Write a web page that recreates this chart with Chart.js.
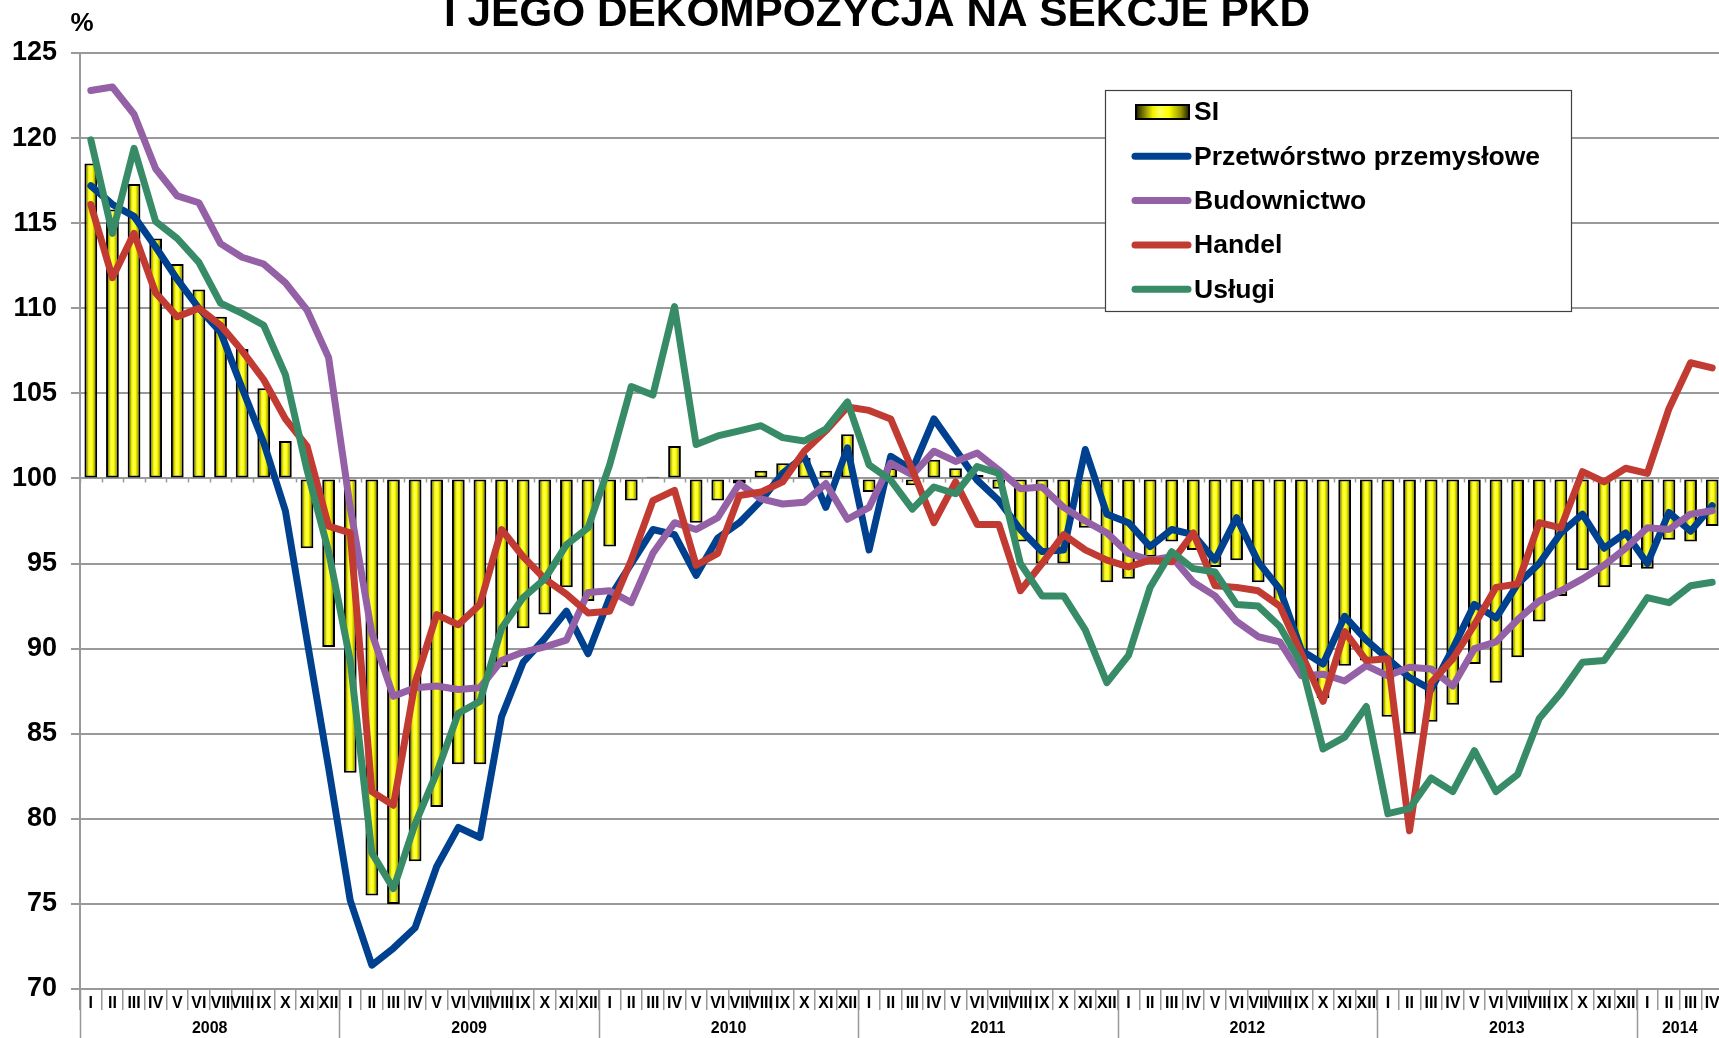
<!DOCTYPE html>
<html lang="pl">
<head>
<meta charset="UTF-8">
<title>Wskaźnik SI i jego dekompozycja na sekcje PKD</title>
<script src="https://cdn.jsdelivr.net/npm/chart.js"></script>
<style>
    html, body { margin: 0; padding: 0; background: #fff; overflow: hidden; }
    .chart-container { width: 1724px; height: 1038px; position: relative; }
</style>
</head>
<body>
<div class="chart-container">
    <canvas id="wykres"></canvas>
</div>
<script>
// miesiące i lata na osi poziomej
const miesiace = ['I', 'II', 'III', 'IV', 'V', 'VI', 'VII', 'VIII', 'IX', 'X', 'XI', 'XII'];
const lata = ['2008', '2009', '2010', '2011', '2012', '2013', '2014'];
const miesiaceOstatniegoRoku = 4;

// wskaźnik SI (słupki od poziomu 100)
const si = [
    118.5, 115.8, 117.3, 114.1, 112.6, 111.1, 109.5, 107.6, 105.3, 102.2, 95.9, 90.1,
    82.7, 75.5, 75.0, 77.5, 80.7, 83.2, 83.2, 88.9, 91.2, 92.0, 93.6, 92.8,
    96.0, 98.7, 100.1, 101.9, 97.4, 98.7, 99.7, 100.45, 100.9, 101.2, 100.45, 102.6,
    99.2, 100.6, 99.6, 101.1, 100.6, 100.2, 99.4, 96.3, 95.0, 95.0, 97.1, 93.9,
    94.1, 95.4, 96.3, 95.8, 94.8, 95.2, 93.9, 92.5, 89.0, 87.1, 89.0, 89.3,
    86.0, 85.0, 85.7, 86.7, 89.1, 88.0, 89.5, 91.6, 93.1, 94.6, 93.6, 94.8,
    94.7, 96.4, 96.3, 97.2
];
const przetworstwo = [
    117.2, 116.1, 115.4, 113.6, 111.7, 110.0, 108.6, 105.3, 102.1, 98.1, 90.5, 83.0,
    75.2, 71.4, 72.4, 73.6, 77.2, 79.5, 78.9, 86.0, 89.2, 90.6, 92.2, 89.7,
    93.0, 95.0, 97.0, 96.7, 94.3, 96.5, 97.4, 98.7, 100.3, 101.3, 98.3, 101.8,
    95.8, 101.3, 100.5, 103.5, 101.7, 99.9, 98.7, 97.0, 95.7, 95.8, 101.7, 97.9,
    97.4, 96.0, 97.0, 96.7, 95.2, 97.7, 95.1, 93.5, 89.9, 89.1, 91.9, 90.5,
    89.4, 88.3, 87.6, 90.0, 92.6, 91.8, 93.8, 95.0, 96.8, 97.9, 95.9, 96.8,
    95.0, 98.0, 96.9, 98.4
];
const budownictwo = [
    122.8, 123.0, 121.4, 118.2, 116.6, 116.2, 113.8, 113.0, 112.6, 111.5, 109.9, 107.1,
    98.3, 90.9, 87.2, 87.7, 87.8, 87.6, 87.7, 89.3, 89.8, 90.1, 90.5, 93.3,
    93.4, 92.7, 95.6, 97.4, 97.0, 97.7, 99.7, 98.8, 98.5, 98.6, 99.7, 97.6,
    98.3, 100.9, 100.2, 101.6, 101.0, 101.5, 100.5, 99.4, 99.5, 98.3, 97.5, 96.8,
    95.6, 95.2, 95.4, 93.9, 93.1, 91.6, 90.7, 90.4, 88.4, 88.5, 88.1, 89.0,
    88.4, 88.9, 88.8, 87.8, 90.0, 90.4, 91.7, 92.8, 93.4, 94.1, 94.9, 95.9,
    97.1, 97.0, 97.9, 98.1
];
const handel = [
    116.1, 111.8, 114.4, 110.9, 109.5, 110.0, 109.0, 107.5, 105.8, 103.5, 101.9, 97.2,
    96.8, 81.6, 80.8, 88.0, 92.0, 91.4, 92.6, 97.0, 95.4, 94.1, 93.2, 92.1,
    92.2, 95.2, 98.7, 99.3, 94.9, 95.6, 99.0, 99.2, 99.8, 101.6, 102.8, 104.2,
    104.0, 103.5, 100.5, 97.4, 99.8, 97.3, 97.3, 93.4, 95.0, 96.7, 95.8, 95.2,
    94.8, 95.2, 95.1, 96.8, 93.7, 93.6, 93.4, 92.5, 89.7, 86.9, 91.0, 89.3,
    89.4, 79.3, 88.0, 89.4, 91.4, 93.6, 93.8, 97.4, 97.1, 100.4, 99.8, 100.6,
    100.3, 104.1, 106.8, 106.5
];
const uslugi = [
    119.9, 114.4, 119.4, 115.1, 114.1, 112.7, 110.3, 109.7, 109.0, 106.1, 100.5, 95.7,
    89.3, 78.0, 75.9, 79.7, 82.7, 86.2, 86.9, 91.2, 93.0, 94.1, 96.1, 97.1,
    100.8, 105.4, 104.9, 110.1, 102.0, 102.5, 102.8, 103.1, 102.4, 102.2, 102.9, 104.5,
    100.8, 99.9, 98.2, 99.5, 99.1, 100.7, 100.3, 95.0, 93.1, 93.1, 91.1, 88.0,
    89.6, 93.6, 95.7, 94.7, 94.5, 92.6, 92.5, 91.3, 89.1, 84.1, 84.8, 86.6,
    80.3, 80.6, 82.4, 81.6, 84.0, 81.6, 82.6, 85.9, 87.4, 89.2, 89.3, 91.1,
    93.0, 92.7, 93.7, 93.9
];

const etykiety = [];
lata.forEach((rok, r) => {
    const ile = r === lata.length - 1 ? miesiaceOstatniegoRoku : 12;
    for (let m = 0; m < ile; m++) etykiety.push(miesiace[m]);
});

const czcionka = "'Liberation Sans', Arial, sans-serif";
const czcionkaWaska = "'Liberation Sans Narrow', 'Arial Narrow', 'Liberation Sans', Arial, sans-serif";
const szaryOsi = '#999999';
const szerokoscSlupka = 0.59;

// żółty słupek z cieniowaniem "3D"
function gradientSlupka(ctx2d, x0, x1) {
    const g = ctx2d.createLinearGradient(x0, 0, x1, 0);
    g.addColorStop(0, '#1f1f00');
    g.addColorStop(0.14, '#7a7a00');
    g.addColorStop(0.32, '#f2f200');
    g.addColorStop(0.45, '#ffff59');
    g.addColorStop(0.62, '#ffff00');
    g.addColorStop(0.84, '#9a9a00');
    g.addColorStop(1, '#1f1f00');
    return g;
}

const dekoracje = {
    id: 'dekoracje',
    beforeDatasetsDraw(chart) {
        // znaczniki osi kategorii na poziomie 100
        const { ctx, scales: { x, y } } = chart;
        const y100 = y.getPixelForValue(100);
        const mw = x.width / etykiety.length;
        ctx.save();
        ctx.strokeStyle = szaryOsi;
        ctx.lineWidth = 1.5;
        ctx.beginPath();
        for (let i = 0; i <= etykiety.length; i++) {
            const px = Math.round(x.left + i * mw) + 0.5;
            ctx.moveTo(px, y100);
            ctx.lineTo(px, y100 + 4);
        }
        ctx.stroke();
        ctx.restore();
    },
    afterDraw(chart) {
        const { ctx, chartArea, scales: { x } } = chart;
        const mw = x.width / etykiety.length;
        const h = chart.height;
        ctx.save();

        // podział na lata
        ctx.strokeStyle = szaryOsi;
        ctx.lineWidth = 1.5;
        ctx.beginPath();
        for (let k = 0; k <= lata.length; k++) {
            const px = Math.round(x.left + Math.min(k * 12, etykiety.length) * mw) + 0.5;
            ctx.moveTo(px, chartArea.bottom);
            ctx.lineTo(px, h);
        }
        ctx.stroke();

        ctx.fillStyle = '#000';
        ctx.font = 'bold 16px ' + czcionkaWaska;
        ctx.textAlign = 'center';
        ctx.textBaseline = 'middle';
        lata.forEach((rok, r) => {
            const od = r * 12;
            const ile = Math.min(12, etykiety.length - od);
            ctx.fillText(rok, x.left + (od + ile / 2) * mw, 1029);
        });

        // jednostka osi
        ctx.font = 'bold 26px ' + czcionka;
        ctx.fillText('%', 82, 24);

        // tytuł (górna linijka poza kadrem)
        const tytul = 'I JEGO DEKOMPOZYCJA NA SEKCJE PKD';
        ctx.font = 'bold 42px ' + czcionka;
        ctx.textAlign = 'left';
        ctx.textBaseline = 'alphabetic';
        const sw = ctx.measureText(tytul).width;
        ctx.save();
        ctx.translate(444, 26);
        ctx.scale(866 / sw, 1);
        ctx.fillText(tytul, 0, 0);
        ctx.restore();

        // legenda
        const lx = 1105, ly = 90, lw = 466, lh = 221;
        ctx.fillStyle = '#fff';
        ctx.fillRect(lx, ly, lw, lh);
        ctx.strokeStyle = '#404040';
        ctx.lineWidth = 1.2;
        ctx.strokeRect(lx + 0.5, ly + 0.5, lw, lh);

        ctx.font = 'bold 26.5px ' + czcionka;
        ctx.textBaseline = 'middle';
        chart.data.datasets.forEach((ds, i) => {
            const cy = 112 + i * 44.3;
            if (ds.type === 'bar') {
                ctx.fillStyle = gradientSlupka(ctx, 1136, 1189);
                ctx.fillRect(1136, cy - 7, 53, 14);
                ctx.strokeStyle = '#000';
                ctx.lineWidth = 2;
                ctx.strokeRect(1136, cy - 7, 53, 14);
            } else {
                ctx.strokeStyle = ds.borderColor;
                ctx.lineWidth = 7;
                ctx.lineCap = 'round';
                ctx.beginPath();
                ctx.moveTo(1135, cy);
                ctx.lineTo(1188, cy);
                ctx.stroke();
            }
            ctx.fillStyle = '#000';
            ctx.fillText(ds.label, 1194, cy + 1);
        });
        ctx.restore();
    }
};

function liniaSerii(label, dane, kolor, kolejnosc) {
    return {
        type: 'line',
        label: label,
        data: dane,
        borderColor: kolor,
        borderWidth: 7,
        borderJoinStyle: 'round',
        borderCapStyle: 'round',
        pointRadius: 0,
        tension: 0,
        fill: false,
        order: kolejnosc
    };
}

const ctx = document.getElementById('wykres').getContext('2d');
new Chart(ctx, {
    type: 'bar',
    data: {
        labels: etykiety,
        datasets: [
            {
                type: 'bar',
                label: 'SI',
                data: si,
                base: 100,
                order: 5,
                borderColor: '#000',
                borderWidth: 2,
                borderSkipped: false,
                categoryPercentage: 1,
                barPercentage: szerokoscSlupka,
                backgroundColor: function (c) {
                    const chart = c.chart;
                    const xs = chart.scales && chart.scales.x;
                    if (c.type !== 'data' || !xs || !xs.width) return '#ffff00';
                    const mw = xs.width / etykiety.length;
                    const cx = xs.getPixelForValue(c.dataIndex);
                    const w = mw * szerokoscSlupka;
                    return gradientSlupka(chart.ctx, cx - w / 2, cx + w / 2);
                }
            },
            liniaSerii('Przetwórstwo przemysłowe', przetworstwo, '#00418f', 4),
            liniaSerii('Budownictwo', budownictwo, '#9461a6', 3),
            liniaSerii('Handel', handel, '#c23b33', 2),
            liniaSerii('Usługi', uslugi, '#378c67', 1)
        ]
    },
    options: {
        responsive: true,
        maintainAspectRatio: false,
        animation: false,
        layout: { padding: { top: 53, right: 1, left: 0, bottom: 0 } },
        plugins: {
            legend: { display: false },
            tooltip: { enabled: false }
        },
        scales: {
            x: {
                type: 'category',
                offset: true,
                afterFit: (s) => { s.height = 49; },
                grid: {
                    offset: true,
                    drawOnChartArea: false,
                    drawTicks: true,
                    tickLength: 21,
                    color: szaryOsi,
                    lineWidth: 1.5
                },
                border: { display: true, color: szaryOsi, width: 2 },
                ticks: {
                    autoSkip: false,
                    maxRotation: 0,
                    minRotation: 0,
                    padding: -16,
                    color: '#000',
                    font: { family: czcionkaWaska, size: 16, weight: 'bold' }
                }
            },
            y: {
                min: 70,
                max: 125,
                afterFit: (s) => { s.width = 80; },
                grid: {
                    color: szaryOsi,
                    lineWidth: 2,
                    tickLength: 9
                },
                border: { display: true, color: szaryOsi, width: 2 },
                ticks: {
                    stepSize: 5,
                    padding: 14,
                    color: '#000',
                    font: { family: czcionka, size: 27, weight: 'bold' }
                }
            }
        }
    },
    plugins: [dekoracje]
});
</script>
</body>
</html>
